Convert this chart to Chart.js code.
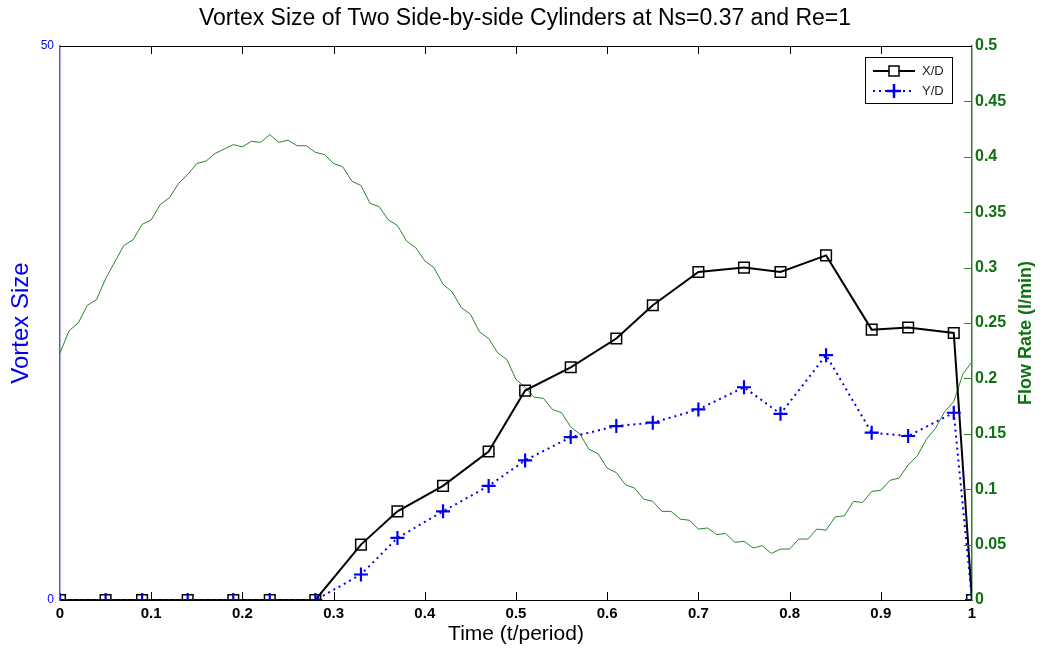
<!DOCTYPE html>
<html>
<head>
<meta charset="utf-8">
<title>Vortex Size of Two Side-by-side Cylinders</title>
<script src="https://cdn.jsdelivr.net/npm/chart.js@4.4.1/dist/chart.umd.min.js"></script>
<style>
	html, body { margin: 0; padding: 0; background: #fff; }
	canvas { display: block; }
</style>
</head>
<body>
<canvas id="myChart" width="1050" height="663"></canvas>
<script>
// vortex measurements (t/period -> size)
const times = [0, 0.05, 0.09, 0.14, 0.19, 0.23, 0.28, 0.33, 0.37, 0.42, 0.47, 0.51, 0.56, 0.61, 0.65, 0.7, 0.75, 0.79, 0.84, 0.89, 0.93, 0.98, 1.0];
const xdSize = [0, 0, 0, 0, 0, 0, 0, 5.0, 8.0, 10.3, 13.4, 18.9, 21.0, 23.6, 26.6, 29.6, 30.0, 29.6, 31.1, 24.4, 24.6, 24.1, 0];
const ydSize = [0, 0, 0, 0, 0, 0, 0, 2.3, 5.6, 8.0, 10.3, 12.6, 14.7, 15.7, 16.0, 17.2, 19.2, 16.8, 22.1, 15.1, 14.8, 16.9, 0];

// flow rate trace (l/min)
const flowTime = [
	0, 0.01, 0.02, 0.03, 0.04, 0.05, 0.06, 0.07, 0.08, 0.09,
	0.1, 0.11, 0.12, 0.13, 0.14, 0.15, 0.16, 0.17, 0.18, 0.19,
	0.2, 0.21, 0.22, 0.23, 0.24, 0.25, 0.26, 0.27, 0.28, 0.29,
	0.3, 0.31, 0.32, 0.33, 0.34, 0.35, 0.36, 0.37, 0.38, 0.39,
	0.4, 0.41, 0.42, 0.43, 0.44, 0.45, 0.46, 0.47, 0.48, 0.49,
	0.5, 0.51, 0.52, 0.53, 0.54, 0.55, 0.56, 0.57, 0.58, 0.59,
	0.6, 0.61, 0.62, 0.63, 0.64, 0.65, 0.66, 0.67, 0.68, 0.69,
	0.7, 0.71, 0.72, 0.73, 0.74, 0.75, 0.76, 0.77, 0.78, 0.79,
	0.8, 0.81, 0.82, 0.83, 0.84, 0.85, 0.86, 0.87, 0.88, 0.89,
	0.9, 0.91, 0.92, 0.93, 0.94, 0.95, 0.96, 0.97, 0.98, 0.99, 1.0
];
const flowRate = [
	0.223, 0.243, 0.25, 0.266, 0.271, 0.29, 0.305, 0.32, 0.325, 0.339,
	0.343, 0.357, 0.363, 0.376, 0.384, 0.394, 0.396, 0.403, 0.407, 0.411,
	0.409, 0.414, 0.413, 0.42, 0.413, 0.415, 0.41, 0.41, 0.404, 0.402,
	0.394, 0.391, 0.378, 0.374, 0.358, 0.355, 0.343, 0.338, 0.324, 0.318,
	0.306, 0.3, 0.285, 0.278, 0.264, 0.258, 0.242, 0.236, 0.223, 0.217,
	0.199, 0.192, 0.183, 0.182, 0.172, 0.169, 0.156, 0.15, 0.136, 0.132,
	0.119, 0.115, 0.104, 0.101, 0.091, 0.089, 0.08, 0.08, 0.073, 0.072,
	0.064, 0.065, 0.059, 0.06, 0.052, 0.053, 0.047, 0.049, 0.042, 0.046,
	0.046, 0.055, 0.055, 0.064, 0.063, 0.075, 0.076, 0.089, 0.088, 0.098,
	0.099, 0.108, 0.11, 0.122, 0.13, 0.145, 0.155, 0.17, 0.179, 0.204, 0.215
];

const FONT = "Arial, 'Liberation Sans', sans-serif";
const BLUE = "#0000ee";
const AXIS_BLUE = "#5a5ad8";
const GREEN = "#2a842a";
const LABEL_GREEN = "#0f700f";

function toPoints(xs, ys) {
	return xs.map((x, i) => ({ x: x, y: ys[i] }));
}

function fmt(v) {
	return String(+v.toFixed(2));
}

// MATLAB style box: inward ticks, top border, right label, legend
const matlabFrame = {
	id: "matlabFrame",
	afterDatasetsDraw(chart) {
		const ctx = chart.ctx;
		const area = chart.chartArea;
		const xs = chart.scales.x;
		const y1 = chart.scales.y1;
		const len = 8;
		ctx.save();
		ctx.lineWidth = 1;

		// top border
		ctx.strokeStyle = "#000";
		ctx.beginPath();
		ctx.moveTo(area.left, area.top + 0.5);
		ctx.lineTo(area.right, area.top + 0.5);
		ctx.stroke();

		// x ticks, bottom and top
		xs.ticks.forEach((t) => {
			if (t.value <= 0 || t.value >= 1) return;
			const px = Math.round(xs.getPixelForValue(t.value)) + 0.5;
			ctx.beginPath();
			ctx.moveTo(px, area.bottom);
			ctx.lineTo(px, area.bottom - len);
			ctx.moveTo(px, area.top);
			ctx.lineTo(px, area.top + len);
			ctx.stroke();
		});

		// right axis ticks
		ctx.strokeStyle = GREEN;
		y1.ticks.forEach((t) => {
			if (t.value <= 0 || t.value >= 0.5) return;
			const py = Math.round(y1.getPixelForValue(t.value)) + 0.5;
			ctx.beginPath();
			ctx.moveTo(area.right, py);
			ctx.lineTo(area.right - len, py);
			ctx.stroke();
		});

		// right axis title, reading bottom to top
		ctx.fillStyle = LABEL_GREEN;
		ctx.font = "bold 18px " + FONT;
		ctx.textAlign = "center";
		ctx.textBaseline = "middle";
		ctx.translate(1026, (area.top + area.bottom) / 2 + 10);
		ctx.rotate(-Math.PI / 2);
		ctx.fillText("Flow Rate (l/min)", 0, 0);
		ctx.restore();

		// legend box
		const lx = 865, ly = 57, lw = 87, lh = 46;
		ctx.save();
		ctx.fillStyle = "#fff";
		ctx.fillRect(lx, ly, lw, lh);
		ctx.strokeStyle = "#000";
		ctx.lineWidth = 1;
		ctx.strokeRect(lx + 0.5, ly + 0.5, lw, lh);
		ctx.font = "13px " + FONT;
		ctx.textBaseline = "middle";

		const ds = chart.data.datasets;
		// X/D
		ctx.strokeStyle = "#000";
		ctx.lineWidth = 2;
		ctx.beginPath();
		ctx.moveTo(lx + 8, ly + 14);
		ctx.lineTo(lx + 50, ly + 14);
		ctx.stroke();
		ctx.lineWidth = 1.5;
		ctx.fillStyle = "#fff";
		ctx.fillRect(lx + 24, ly + 9, 10, 10);
		ctx.strokeRect(lx + 24, ly + 9, 10, 10);
		ctx.fillStyle = "#222";
		ctx.fillText(ds[0].label, lx + 57, ly + 14);

		// Y/D
		ctx.strokeStyle = BLUE;
		ctx.lineWidth = 2;
		ctx.setLineDash([2, 4]);
		ctx.beginPath();
		ctx.moveTo(lx + 8, ly + 34);
		ctx.lineTo(lx + 50, ly + 34);
		ctx.stroke();
		ctx.setLineDash([]);
		ctx.lineWidth = 2.5;
		ctx.beginPath();
		ctx.moveTo(lx + 22, ly + 34);
		ctx.lineTo(lx + 36, ly + 34);
		ctx.moveTo(lx + 29, ly + 27);
		ctx.lineTo(lx + 29, ly + 41);
		ctx.stroke();
		ctx.fillStyle = "#222";
		ctx.fillText(ds[1].label, lx + 57, ly + 34);
		ctx.restore();
	},
};

const ctx = document.getElementById("myChart");
const chart = new Chart(ctx, {
	type: "line",
	data: {
		datasets: [
			{
				label: "X/D",
				data: toPoints(times, xdSize),
				yAxisID: "y",
				borderColor: "#000",
				borderWidth: 2,
				pointStyle: "rect",
				pointRadius: 7.5,
				pointBorderWidth: 1.5,
				pointBorderColor: "#000",
				pointBackgroundColor: "rgba(255,255,255,0)",
				order: 2,
			},
			{
				label: "Y/D",
				data: toPoints(times, ydSize),
				yAxisID: "y",
				borderColor: BLUE,
				borderWidth: 2,
				borderDash: [2, 4],
				pointStyle: "cross",
				pointRadius: 7,
				pointBorderWidth: 2.2,
				pointBorderColor: BLUE,
				order: 1,
			},
			{
				label: "Flow Rate",
				data: toPoints(flowTime, flowRate),
				yAxisID: "y1",
				borderColor: GREEN,
				borderWidth: 1,
				pointRadius: 0,
				order: 3,
			},
		],
	},
	options: {
		responsive: false,
		animation: false,
		layout: { padding: 0 },
		plugins: {
			legend: { display: false },
			tooltip: { enabled: false },
			title: {
				display: true,
				text: "Vortex Size of Two Side-by-side Cylinders at Ns=0.37 and Re=1",
				color: "#000",
				font: { family: FONT, size: 23, weight: "normal" },
				padding: { top: 5, bottom: 13.4 },
			},
		},
		scales: {
			x: {
				type: "linear",
				min: 0,
				max: 1,
				grid: { display: false, drawTicks: false },
				border: { display: true, color: "#000", width: 1 },
				ticks: {
					stepSize: 0.1,
					color: "#000",
					padding: 5,
					maxRotation: 0,
					font: { family: FONT, size: 15, weight: "bold" },
					callback: fmt,
				},
				title: {
					display: true,
					text: "Time (t/period)",
					color: "#000",
					font: { family: FONT, size: 21 },
					padding: { top: 0, bottom: 16 },
				},
				afterFit(scale) {
					scale.height = 63;
				},
			},
			y: {
				position: "left",
				min: 0,
				max: 50,
				grid: { display: false, drawTicks: false },
				border: { display: true, color: AXIS_BLUE, width: 1.5 },
				ticks: {
					stepSize: 50,
					color: BLUE,
					padding: 6,
					font: { family: FONT, size: 12 },
					callback: fmt,
				},
				title: {
					display: true,
					text: "Vortex Size",
					color: BLUE,
					font: { family: FONT, size: 24 },
					padding: { top: 7, bottom: 0 },
				},
				afterFit(scale) {
					scale.width = 60;
				},
			},
			y1: {
				position: "right",
				min: 0,
				max: 0.5,
				grid: { display: false, drawTicks: false },
				border: { display: true, color: GREEN, width: 1.5 },
				ticks: {
					stepSize: 0.05,
					color: LABEL_GREEN,
					padding: 3,
					font: { family: FONT, size: 16, weight: "bold" },
					callback: fmt,
				},
				afterFit(scale) {
					scale.width = 78;
				},
			},
		},
	},
	plugins: [matlabFrame],
});
</script>
</body>
</html>
